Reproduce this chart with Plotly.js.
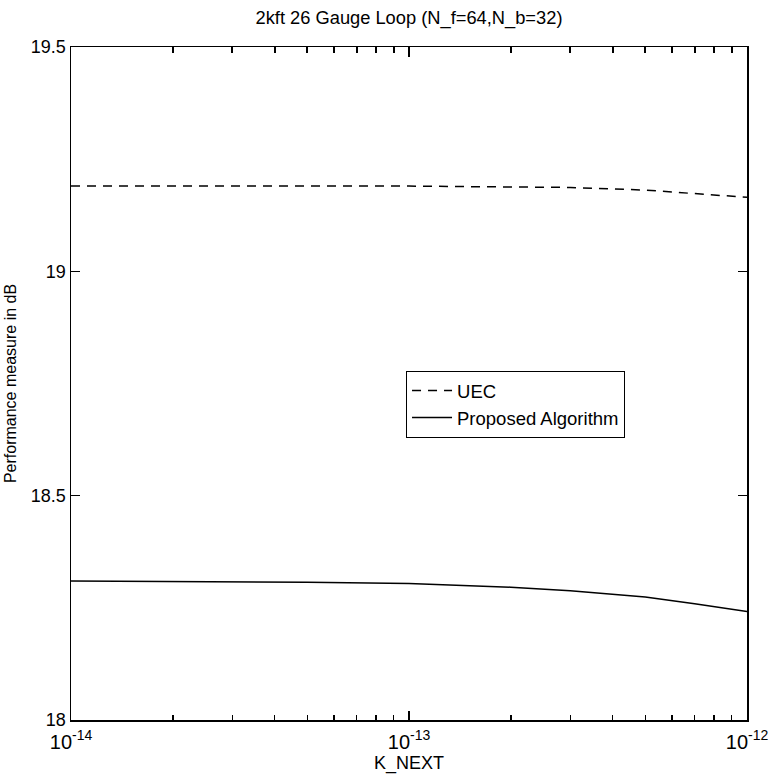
<!DOCTYPE html>
<html>
<head>
<meta charset="utf-8">
<script src="https://cdn.plot.ly/plotly-3.0.1.min.js"></script>
<style>html,body{margin:0;padding:0;background:#fff;}</style>
</head>
<body>
<div id="chart" style="width:770px;height:774px;"></div>
<script>
const kNext = [1e-14, 2e-14, 5e-14, 1e-13, 2e-13, 3e-13, 5e-13, 7e-13, 1e-12];
const uec = [19.19, 19.19, 19.19, 19.19, 19.188, 19.187, 19.181, 19.174, 19.165];
const proposed = [18.31, 18.309, 18.307, 18.304, 18.296, 18.288, 18.274, 18.259, 18.242];
const seriesNames = ["UEC", "Proposed Algorithm"];
const xTicks = [1e-14, 1e-13, 1e-12];
const xTickText = ["10<sup>-14</sup>", "10<sup>-13</sup>", "10<sup>-12</sup>"];
const yTicks = [18, 18.5, 19, 19.5];
const yTickText = ["18", "18.5", "19", "19.5"];

const font = "Liberation Sans, Arial, Helvetica, sans-serif";

const traces = [
  {x: kNext, y: uec, name: seriesNames[0], mode: "lines", type: "scatter",
   line: {color: "#000", width: 1.5, dash: "9px,7px"}},
  {x: kNext, y: proposed, name: seriesNames[1], mode: "lines", type: "scatter",
   line: {color: "#000", width: 1.5}},
  // same data on the mirrored top axis (transparent) so its ticks are drawn
  {x: kNext, y: proposed, xaxis: "x2", yaxis: "y", mode: "lines", type: "scatter",
   line: {color: "rgba(0,0,0,0)", width: 0}, showlegend: false, hoverinfo: "skip"}
];

const tickCommon = {
  showgrid: false, zeroline: false, showline: true, linecolor: "#000", linewidth: 1.5,
  ticks: "inside", ticklen: 9, tickwidth: 1.5, tickcolor: "#000"
};
const minorTicks = {ticks: "inside", ticklen: 5, tickwidth: 1.5, tickcolor: "#000", dtick: "D1", showgrid: false};

const layout = {
  width: 770, height: 774,
  margin: {l: 71, r: 23, t: 47, b: 54},
  paper_bgcolor: "#fff", plot_bgcolor: "#fff",
  font: {family: font, color: "#000", size: 18},
  title: {text: "2kft 26 Gauge Loop (N_f=64,N_b=32)", xref: "paper", x: 0.5, xanchor: "center",
          yref: "container", y: 0.977, yanchor: "middle",
          font: {family: font, size: 18.3, color: "#000"}},
  xaxis: Object.assign({}, tickCommon, {
    type: "log", range: [-14, -12], tickvals: xTicks, ticktext: xTickText,
    ticklabeloverflow: "allow", ticklabelstandoff: 3,
    minor: minorTicks,
    tickfont: {family: font, size: 20},
    title: {text: "K_NEXT", font: {family: font, size: 18}, standoff: 5}
  }),
  xaxis2: Object.assign({}, tickCommon, {
    type: "log", range: [-14, -12], tickvals: xTicks, overlaying: "x", side: "top", anchor: "y",
    showticklabels: false, ticklen: 10, tickwidth: 2,
    minor: Object.assign({}, minorTicks, {ticklen: 6, tickwidth: 2})
  }),
  yaxis: Object.assign({}, tickCommon, {
    range: [18, 19.5], tickvals: yTicks, ticktext: yTickText, mirror: "ticks",
    tickfont: {family: font, size: 18},
    title: {text: "Performance measure in dB", font: {family: font, size: 16}, standoff: 10}
  }),
  showlegend: true,
  legend: {x: 0.4956, y: 0.5186, xanchor: "left", yanchor: "top",
           bordercolor: "#000", borderwidth: 1, bgcolor: "#fff",
           font: {family: font, size: 18.5, color: "#000"},
           tracegroupgap: 0, itemwidth: 40, entrywidth: 210, entrywidthmode: "pixels"}
};

Plotly.newPlot("chart", traces, layout, {displayModeBar: false, staticPlot: true});
</script>
</body>
</html>
